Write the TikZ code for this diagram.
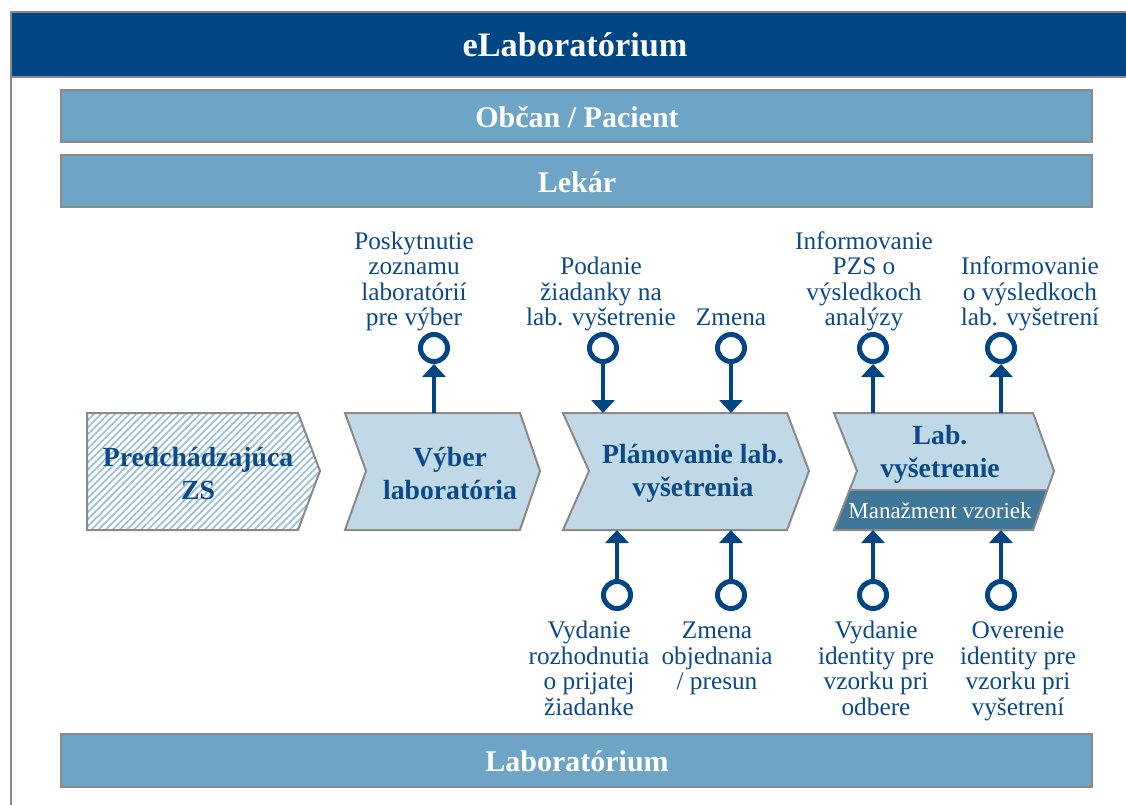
\documentclass[tikz,border=0pt]{standalone}
\usepackage{fontspec}
\setmainfont{Liberation Serif}
\usetikzlibrary{arrows.meta,patterns.meta}
\definecolor{dkblue}{HTML}{004684}
\definecolor{txtblue}{HTML}{0B4A87}
\definecolor{barblue}{HTML}{6EA5C6}
\definecolor{chevfill}{HTML}{C1D9E7}
\definecolor{bandfill}{HTML}{3E7797}
\definecolor{hatch}{HTML}{9CC2DA}
\definecolor{frame}{HTML}{8A8A8A}
\newcommand{\fstrut}{\vphantom{d}}
\tikzset{
  bar/.style={fill=barblue,draw=frame,line width=1.5pt},
  bartext/.style={text=white,font=\fontsize{30}{31}\selectfont\bfseries,inner sep=0pt},
  chev/.style={draw=frame,line width=2pt,line join=miter},
  chevtext/.style={text=txtblue,align=center,font=\fontsize{27.7}{33}\selectfont\bfseries,inner sep=0pt},
  toplabel/.style={text=txtblue,align=center,font=\fontsize{25.3}{25.5}\selectfont,inner sep=0pt,anchor=south,text depth=6pt},
  botlabel/.style={text=txtblue,align=center,font=\fontsize{25.3}{25.5}\selectfont,inner sep=0pt,anchor=north},
  ring/.style={circle,draw=dkblue,line width=5pt,minimum size=27pt,inner sep=0pt,fill=white},
  conn/.style={draw=dkblue,line width=4.5pt,-{Triangle[width=23pt,length=13pt]}}
}
\begin{document}
\begin{tikzpicture}[x=1pt,y=-1pt]
\useasboundingbox (0,0) rectangle (1126,805);
% frame and header
\draw[frame,line width=1.5pt] (11,12) -- (11,810);
\path[fill=dkblue,draw=frame,line width=1.5pt] (11,12) rectangle (1135,77);
\node[text=white,font=\fontsize{34.3}{36}\selectfont\bfseries,inner sep=0pt] (title) at (575,45) {eLaboratórium};
% bars
\path[bar] (61,90) rectangle (1092,142);
\node[bartext] (obcan) at (577,117) {Občan / Pacient};
\path[bar] (61,155) rectangle (1092,207);
\node[bartext] (lekar) at (577,182) {Lekár};
\path[bar] (61,734) rectangle (1092,787);
\node[bartext] (labor) at (577,761) {Laboratórium};
% chevrons
\path[fill=white] (87,413) -- (298,413) -- (320,471) -- (298,530) -- (87,530) -- cycle;
\path[pattern={Lines[angle=45,distance=5pt,line width=1.8pt]},pattern color=hatch] (87,413) -- (298,413) -- (320,471) -- (298,530) -- (87,530) -- cycle;
\path[chev] (87,413) -- (298,413) -- (320,471) -- (298,530) -- (87,530) -- cycle;
\node[chevtext] (pred) at (198,473.5) {Predchádzajúca\\ZS};
\path[chev,fill=chevfill] (345,413) -- (520,413) -- (540,471) -- (520,530) -- (345,530) -- (366,471) -- cycle;
\node[chevtext] (vyber) at (450,473.5) {Výber\\laboratória};
\path[chev,fill=chevfill] (563,413) -- (787,413) -- (809,471) -- (787,530) -- (563,530) -- (589,471) -- cycle;
\node[chevtext] (plan) at (693,473.5) {Plánovanie lab.\\vyšetrenia};
\path[fill=chevfill] (834,413) -- (1033,413) -- (1054,471) -- (1033,530) -- (834,530) -- (857,471) -- cycle;
\path[fill=bandfill] (849,490) -- (1047,490) -- (1033,530) -- (834,530) -- cycle;
\draw[frame,line width=1.5pt] (849,490) -- (1047,490);
\path[chev] (834,413) -- (1033,413) -- (1054,471) -- (1033,530) -- (834,530) -- (857,471) -- cycle;
\node[chevtext] (labvys) at (940,454) {Lab.\\vyšetrenie};
\node[text=white,font=\fontsize{23}{25}\selectfont,inner sep=0pt] (manaz) at (940,511) {Manažment vzoriek};
% chevron edge coordinates
\coordinate (vt) at (434,413);
\coordinate (pt1) at (603,413);
\coordinate (pt2) at (731,413);
\coordinate (lt1) at (873,413);
\coordinate (lt2) at (1001,413);
\coordinate (pb1) at (617,530);
\coordinate (pb2) at (731,530);
\coordinate (lb1) at (873,530);
\coordinate (lb2) at (1001,530);
% top rings
\node[ring] (r1) at (434,348) {};
\node[ring] (r2) at (603,348) {};
\node[ring] (r3) at (731,348) {};
\node[ring] (r4) at (873,348) {};
\node[ring] (r5) at (1001,348) {};
\draw[conn] (vt) -- (r1);
\draw[conn] (r2) -- (pt1);
\draw[conn] (r3) -- (pt2);
\draw[conn] (lt1) -- (r4);
\draw[conn] (lt2) -- (r5);
% bottom rings
\node[ring] (s1) at (617,595) {};
\node[ring] (s2) at (731,595) {};
\node[ring] (s3) at (873,595) {};
\node[ring] (s4) at (1001,595) {};
\draw[conn] (s1) -- (pb1);
\draw[conn] (s2) -- (pb2);
\draw[conn] (s3) -- (lb1);
\draw[conn] (s4) -- (lb2);
% labels
\node[toplabel] (l1) at (414,332) {Poskytnutie\\zoznamu\\laboratórií\\pre výber};
\node[toplabel] (l2) at (601,332) {Podanie\\žiadanky na\\lab. vyšetrenie};
\node[toplabel] (l3) at (731,332) {Zmena};
\node[toplabel] (l4) at (864,332) {Informovanie\\PZS o\\výsledkoch\\analýzy};
\node[toplabel] (l5) at (1030,332) {Informovanie\\o výsledkoch\\lab. vyšetrení};
\node[botlabel] (m1) at (589,621) {\fstrut Vydanie\\rozhodnutia\\o prijatej\\žiadanke};
\node[botlabel] (m2) at (717,621) {\fstrut Zmena\\objednania\\/ presun};
\node[botlabel] (m3) at (876,621) {\fstrut Vydanie\\identity pre\\vzorku pri\\odbere};
\node[botlabel] (m4) at (1018,621) {\fstrut Overenie\\identity pre\\vzorku pri\\vyšetrení};
\end{tikzpicture}
\end{document}
